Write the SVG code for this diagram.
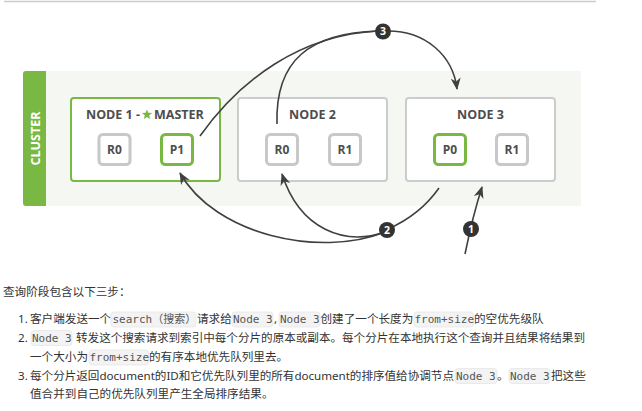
<svg xmlns="http://www.w3.org/2000/svg" width="642" height="411" viewBox="0 0 642 411">
<style>
  .lbl{font-family:"Open Sans","Noto Sans",sans-serif;font-weight:bold;fill:#4d4d4d}
  .title{font-size:12.5px}
  .shardtxt{font-size:12px;text-anchor:middle}
  .nodebox{fill:#fff;stroke:#cccccc;stroke-width:2}
  .master{stroke:#78b843}
  .shard{fill:#fff;stroke:#c8c8c8;stroke-width:3}
  .primary{stroke:#78b843}
  .conn{fill:none;stroke:#404040;stroke-width:1.6}
  .badge{fill:#333}
  .badgetxt{font-family:"Open Sans","Noto Sans",sans-serif;font-weight:bold;font-size:10.5px;fill:#fff;text-anchor:middle}
  .t{font-family:"Noto Sans","Noto Sans CJK SC",sans-serif;font-size:11.6px;fill:#333}
  .code{font-family:"DejaVu Sans Mono","Liberation Mono","Noto Sans CJK SC",monospace;font-size:11px;fill:#555}
  .codebg{fill:#f3f3f3;stroke:#e6e6e6;stroke-width:0.8}
</style>
<defs>
  <marker id="arr" markerUnits="userSpaceOnUse" markerWidth="12" markerHeight="12" viewBox="0 0 12 12" refX="11" refY="6" orient="auto">
    <path d="M0,1 L12,6 L0,11 L3.5,6 z" fill="#404040"/>
  </marker>
</defs>

<line x1="4" y1="1.5" x2="596" y2="1.5" stroke="#cccccc" stroke-width="1.5"/>

<g id="cluster">
  <rect x="23" y="71" width="558" height="135" fill="#f5f7f2"/>
  <path d="M46,71 L26,71 Q23,71 23,74 L23,203 Q23,206 26,206 L46,206 z" fill="#78b843"/>
  <text x="40" y="138.5" transform="rotate(-90 40 138.5)" text-anchor="middle" font-family="Open Sans, Noto Sans, sans-serif" font-weight="bold" font-size="12.5" fill="#fff">CLUSTER</text>
</g>

<g id="node1">
  <rect class="nodebox master" x="71" y="98" width="149" height="83" rx="3"/>
  <text class="lbl title" x="86" y="119">NODE 1 -</text>
  <polygon points="147,109.5 148.35,112.7 152.2,113 149.2,115.3 150.2,119 147,116.9 143.8,119 144.8,115.3 141.8,113 145.65,112.7" fill="#78b843"/>
  <text class="lbl title" x="154" y="119">MASTER</text>
  <rect class="shard" x="99" y="134.5" width="31" height="30" rx="4"/>
  <text class="lbl shardtxt" x="114.5" y="153.5">R0</text>
  <rect class="shard primary" x="161.5" y="134.5" width="31" height="30" rx="4"/>
  <text class="lbl shardtxt" x="177" y="153.5">P1</text>
</g>

<g id="node2">
  <rect class="nodebox" x="238" y="98" width="149" height="83" rx="3"/>
  <text class="lbl title" x="312.5" y="119" text-anchor="middle">NODE 2</text>
  <rect class="shard" x="266.5" y="134.5" width="31" height="30" rx="4"/>
  <text class="lbl shardtxt" x="282" y="153.5">R0</text>
  <rect class="shard" x="329.5" y="134.5" width="31" height="30" rx="4"/>
  <text class="lbl shardtxt" x="345" y="153.5">R1</text>
</g>

<g id="node3">
  <rect class="nodebox" x="406" y="98" width="149" height="83" rx="3"/>
  <text class="lbl title" x="480.5" y="119" text-anchor="middle">NODE 3</text>
  <rect class="shard primary" x="434.5" y="134.5" width="31" height="30" rx="4"/>
  <text class="lbl shardtxt" x="450" y="153.5">P0</text>
  <rect class="shard" x="496.5" y="134.5" width="31" height="30" rx="4"/>
  <text class="lbl shardtxt" x="512" y="153.5">R1</text>
</g>

<g id="connectors">
  <path class="conn" d="M200,136 C240,80 300,35 378,31"/>
  <path class="conn" d="M277,124 C275,60 310,33 378,31"/>
  <path class="conn" marker-end="url(#arr)" d="M388,31 C425,31 453,55 457,89"/>
  <path class="conn" d="M439,188 Q420,215 388,229"/>
  <path class="conn" marker-end="url(#arr)" d="M385,232 C345,246 300,230 282,174"/>
  <path class="conn" marker-end="url(#arr)" d="M385,232 C320,258 215,235 180,173"/>
  <path class="conn" marker-end="url(#arr)" d="M465,254 Q473,215 482,187"/>
  <g id="badge3"><circle class="badge" cx="383" cy="31.5" r="8"/><text class="badgetxt" x="383" y="35.3">3</text></g>
  <g id="badge2"><circle class="badge" cx="387" cy="230" r="8"/><text class="badgetxt" x="387" y="233.8">2</text></g>
  <g id="badge1"><circle class="badge" cx="471" cy="229" r="8"/><text class="badgetxt" x="471" y="232.8">1</text></g>
</g>

<g id="steps">
  <text class="t" x="3" y="296">查询阶段包含以下三步：</text>

  <text class="t" x="18" y="323">1.</text>
  <text class="t" x="30" y="323">客户端发送一个</text>
  <rect class="codebg" x="111" y="312" width="85" height="15" rx="3"/>
  <text class="code" x="112.5" y="323">search（搜索）</text>
  <text class="t" x="197" y="323">请求给</text>
  <rect class="codebg" x="232" y="312" width="41" height="15" rx="3"/>
  <text class="code" x="233" y="323">Node 3</text>
  <text class="t" x="274" y="323">,</text>
  <rect class="codebg" x="279" y="312" width="41" height="15" rx="3"/>
  <text class="code" x="280" y="323">Node 3</text>
  <text class="t" x="320.5" y="323">创建了一个长度为</text>
  <rect class="codebg" x="414" y="312" width="59.5" height="15" rx="3"/>
  <text class="code" x="414.5" y="323">from+size</text>
  <text class="t" x="474" y="323">的空优先级队</text>

  <text class="t" x="18" y="341.5">2.</text>
  <rect class="codebg" x="31" y="330.5" width="41" height="15" rx="3"/>
  <text class="code" x="32" y="341.5">Node 3</text>
  <text class="t" x="76" y="341.5" textLength="509" lengthAdjust="spacing">转发这个搜索请求到索引中每个分片的原本或副本。每个分片在本地执行这个查询并且结果将结果到</text>

  <text class="t" x="30" y="361">一个大小为</text>
  <rect class="codebg" x="89" y="350" width="59.5" height="15" rx="3"/>
  <text class="code" x="89.5" y="361">from+size</text>
  <text class="t" x="149" y="361">的有序本地优先队列里去。</text>

  <text class="t" x="18" y="379.5">3.</text>
  <text class="t" x="30" y="379.5" textLength="424" lengthAdjust="spacing">每个分片返回document的ID和它优先队列里的所有document的排序值给协调节点</text>
  <rect class="codebg" x="455" y="368.5" width="42" height="15" rx="3"/>
  <text class="code" x="456" y="379.5">Node 3</text>
  <text class="t" x="497" y="379.5">。</text>
  <rect class="codebg" x="509" y="368.5" width="41" height="15" rx="3"/>
  <text class="code" x="510" y="379.5">Node 3</text>
  <text class="t" x="551" y="379.5">把这些</text>

  <text class="t" x="30" y="398">值合并到自己的优先队列里产生全局排序结果。</text>
</g>
</svg>
